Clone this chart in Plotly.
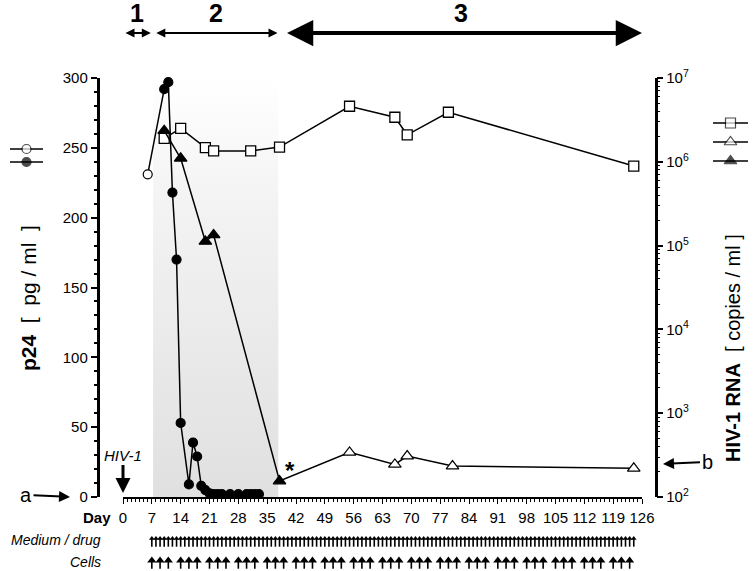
import plotly.graph_objects as go

# ---------------- data ----------------
# p24 (pg/ml), left axis. First point: no drug (open), rest with drug (filled)
p24_days = [6, 10, 11, 12, 13, 14, 16, 17, 18, 19, 20, 21, 22, 23, 24, 26, 28, 30, 31, 32, 33]
p24_vals = [231, 292, 297, 218, 170, 53, 9, 39, 29, 8, 5, 2.6, 2, 2, 2, 2, 2, 2, 2, 2, 2]
p24_open = [True] + [False] * 20

# HIV-1 RNA (copies/ml), right log axis
rna_sq_days = [10, 14, 20, 22, 31, 38, 55, 66, 69, 79, 124]
rna_sq_vals = [1.9e6, 2.5e6, 1.48e6, 1.35e6, 1.35e6, 1.5e6, 4.6e6, 3.4e6, 2.1e6, 3.9e6, 8.9e5]

rna_tri_days = [10, 14, 20, 22, 38, 55, 66, 69, 80, 124]
rna_tri_vals = [2.35e6, 1.1e6, 1.12e5, 1.34e5, 155, 341, 245, 308, 234, 220]
rna_tri_open = [False] * 5 + [True] * 5

# treatment schedule
medium_days = list(range(7, 125))
cells_days = [d + k for d in range(7, 120, 7) for k in (0, 2, 4)]

# periods
period_labels = ["1", "2", "3"]
period_bounds = [(0, 7), (7, 38), (38, 126)]
shade_range = (7.3, 37.7)

x_ticks = list(range(0, 127, 7))
p24_ticks = [0, 50, 100, 150, 200, 250, 300]
rna_ticks = [1e2, 1e3, 1e4, 1e5, 1e6, 1e7]
rna_ticktext = ["10<sup>%d</sup>" % e for e in range(2, 8)]

# ---------------- layout geometry ----------------
W, H = 753, 571


def px(x):
    return x / W


def py(y):
    return (H - y) / H


FONT = "Liberation Sans, Arial, sans-serif"
NARROW = "Liberation Sans Narrow, Arial Narrow, Liberation Sans, sans-serif"
X0, X1 = px(123), px(642)
YB, YT = py(497), py(78)
XL, XR = px(97.5), px(655.5)

fig = go.Figure()

# shaded drug period (gradient)
fig.add_trace(go.Scatter(
    x=[shade_range[0], shade_range[1], shade_range[1], shade_range[0], shade_range[0]],
    y=[0, 0, 300, 300, 0], mode="lines", line=dict(width=0),
    fill="toself",
    fillgradient=dict(type="vertical", colorscale=[[0, "#e0e0e0"], [0.7, "#f3f3f3"], [1, "#ffffff"]]),
    hoverinfo="skip", showlegend=False, xaxis="x", yaxis="y"))

# p24
fig.add_trace(go.Scatter(
    x=p24_days, y=p24_vals, mode="lines+markers", xaxis="x", yaxis="y",
    line=dict(color="black", width=1.5),
    marker=dict(symbol="circle", size=9, color=["white" if o else "black" for o in p24_open],
                line=dict(color="black", width=1.2)),
    showlegend=False, cliponaxis=False))

# RNA squares
fig.add_trace(go.Scatter(
    x=rna_sq_days, y=rna_sq_vals, mode="lines+markers", xaxis="x", yaxis="y2",
    line=dict(color="black", width=1.5),
    marker=dict(symbol="square", size=10, color="white", line=dict(color="black", width=1.3)),
    showlegend=False, cliponaxis=False))

# RNA triangles
fig.add_trace(go.Scatter(
    x=rna_tri_days, y=rna_tri_vals, mode="lines+markers", xaxis="x", yaxis="y2",
    line=dict(color="black", width=1.5),
    marker=dict(symbol="triangle-up", size=11, color=["white" if o else "black" for o in rna_tri_open],
                line=dict(color="black", width=1.2)),
    showlegend=False, cliponaxis=False))

# schedule rows (bottom strip, y3 value v sits at window pixel 571 - v)
ROW_MED, ROW_CELL = 31, 9
for days, row, hs, ss in ((medium_days, ROW_MED, 5, 6), (cells_days, ROW_CELL, 8, 6)):
    fig.add_trace(go.Scatter(x=days, y=[row - 2.5] * len(days), mode="markers", xaxis="x", yaxis="y3",
                             marker=dict(symbol="line-ns", size=ss, line=dict(color="black", width=1.6)),
                             showlegend=False, hoverinfo="skip", cliponaxis=False))
    fig.add_trace(go.Scatter(x=days, y=[row + 1.5] * len(days), mode="markers", xaxis="x", yaxis="y3",
                             marker=dict(symbol="triangle-up", size=hs, color="black", line=dict(width=0)),
                             showlegend=False, hoverinfo="skip", cliponaxis=False))

# keys (window-pixel overlay)
keys = [
    (10, 43, 149, "circle", "white", 9),
    (10, 43, 162, "circle", "black", 9),
    (713, 748, 123, "square", "white", 10),
    (713, 748, 142, "triangle-up", "white", 11),
    (713, 748, 161, "triangle-up", "black", 11),
]
for xa, xb, yy, sym, col, sz in keys:
    fig.add_trace(go.Scatter(x=[xa, (xa + xb) / 2, xb], y=[yy, yy, yy], mode="lines+markers",
                             xaxis="x2", yaxis="y4", line=dict(color="black", width=1.5),
                             marker=dict(symbol=sym, size=[0, sz, 0], color=col,
                                         line=dict(color="black", width=1.2)),
                             showlegend=False, hoverinfo="skip", cliponaxis=False))

ann = []
# period arrows
for (a, b), lab, w, sz, ss, so in zip(period_bounds, period_labels, [1.8, 1.8, 4.2], [1.0, 1.0, 1.25],
                                      [1, 3, 6], [1, 2, 0]):
    ann.append(dict(x=b, y=py(33), xref="x", yref="paper", ax=a, axref="x", ay=0, ayref="pixel",
                    text="", showarrow=True, arrowhead=2, startarrowhead=2, arrowside="end+start",
                    arrowwidth=w, arrowsize=sz, startarrowsize=sz, arrowcolor="black",
                    standoff=so, startstandoff=ss))
    ann.append(dict(x=(a + b) / 2, y=py(13), xref="x", yref="paper", text="<b>%s</b>" % lab,
                    showarrow=False, font=dict(family=NARROW, size=25, color="black"),
                    xanchor="center", yanchor="middle"))

# axis titles
ann.append(dict(x=px(28), y=py(298), xref="paper", yref="paper",
                text="<b>p24</b>  [&nbsp; pg / ml &nbsp;]",
                textangle=-90, showarrow=False, xanchor="center", yanchor="middle",
                font=dict(family=FONT, size=21, color="black")))
ann.append(dict(x=px(733), y=py(348), xref="paper", yref="paper",
                text="<b>HIV-1 RNA</b>  [&nbsp;copies / ml&nbsp;]", xanchor="center",
                yanchor="middle", textangle=-90, showarrow=False,
                font=dict(family=FONT, size=20, color="black")))

# a / b markers
ann.append(dict(x=px(70), y=py(497), xref="paper", yref="paper", text="a", ax=-44, ay=-2,
                showarrow=True, arrowhead=2, arrowwidth=2, arrowsize=1.1, arrowcolor="black",
                font=dict(family=FONT, size=20, color="black")))
ann.append(dict(x=px(663), y=py(464), xref="paper", yref="paper", text="b", ax=44, ay=-2,
                showarrow=True, arrowhead=2, arrowwidth=2, arrowsize=1.1, arrowcolor="black",
                font=dict(family=FONT, size=20, color="black")))

# HIV-1 inoculation
ann.append(dict(x=0, y=0, xref="x", yref="y", text="<i>HIV-1</i>", ax=0, ay=-42, standoff=4,
                showarrow=True, arrowhead=2, arrowwidth=3, arrowsize=1, arrowcolor="black",
                font=dict(family=FONT, size=15, color="black")))

# asterisk
ann.append(dict(x=40.5, y=19, xref="x", yref="y", text="<b>*</b>", showarrow=False,
                xanchor="center", yanchor="middle", font=dict(family=FONT, size=24, color="black")))

# bottom row labels
ann.append(dict(x=px(113), y=py(517), xref="paper", yref="paper", text="<b>Day</b>",
                showarrow=False, xanchor="right", yanchor="middle",
                font=dict(family=FONT, size=15, color="black")))
ann.append(dict(x=px(103), y=py(540), xref="paper", yref="paper", text="<i>Medium / drug</i>",
                showarrow=False, xanchor="right", yanchor="middle",
                font=dict(family=FONT, size=14, color="black")))
ann.append(dict(x=px(103), y=py(562), xref="paper", yref="paper", text="<i>Cells</i>",
                showarrow=False, xanchor="right", yanchor="middle",
                font=dict(family=FONT, size=14, color="black")))

axis_common = dict(showgrid=False, zeroline=False, showline=True, linecolor="black",
                   ticks="outside", tickcolor="black")

fig.update_layout(
    width=W, height=H, margin=dict(l=0, r=0, t=0, b=0),
    paper_bgcolor="white", plot_bgcolor="rgba(0,0,0,0)",
    font=dict(family=FONT, color="black"),
    annotations=ann,
    xaxis=dict(domain=[X0, X1], range=[0, 126], anchor="y", tickvals=x_ticks, linewidth=2,
               ticklen=5, tickwidth=1.2, ticklabelstandoff=1, automargin=False,
               minor=dict(dtick=1, tick0=0, ticks="outside", ticklen=3, tickcolor="black", tickwidth=1),
               tickfont=dict(family=FONT, size=15, color="black"), **axis_common),
    yaxis=dict(domain=[YB, YT], range=[0, 300], anchor="free", position=XL, tickvals=p24_ticks,
               linewidth=2.5, ticklen=6, tickwidth=2, automargin=False,
               minor=dict(dtick=10, tick0=0, ticks="outside", ticklen=3, tickcolor="black", tickwidth=1.5),
               tickfont=dict(family=FONT, size=15, color="black"), **axis_common),
    yaxis2=dict(type="log", range=[2, 7], overlaying="y", side="right", anchor="free", position=XR,
                tickvals=rna_ticks, ticktext=rna_ticktext, linewidth=2.5, ticklen=6, tickwidth=2,
                automargin=False,
                minor=dict(dtick="D1", ticks="outside", ticklen=3, tickcolor="black", tickwidth=1.2),
                tickfont=dict(family=FONT, size=15, color="black"), **axis_common),
    yaxis3=dict(domain=[0, 60 / H], range=[0, 60], anchor="x", visible=False),
    xaxis2=dict(domain=[0, 1], range=[0, W], anchor="y4", visible=False),
    yaxis4=dict(domain=[0, 1], range=[H, 0], anchor="x2", visible=False),
)

# the page's default 8px body margin would shift the figure; remove it
fig.write_html("out.html", config={"displayModeBar": False},
               post_script="document.body.style.margin='0px';")
